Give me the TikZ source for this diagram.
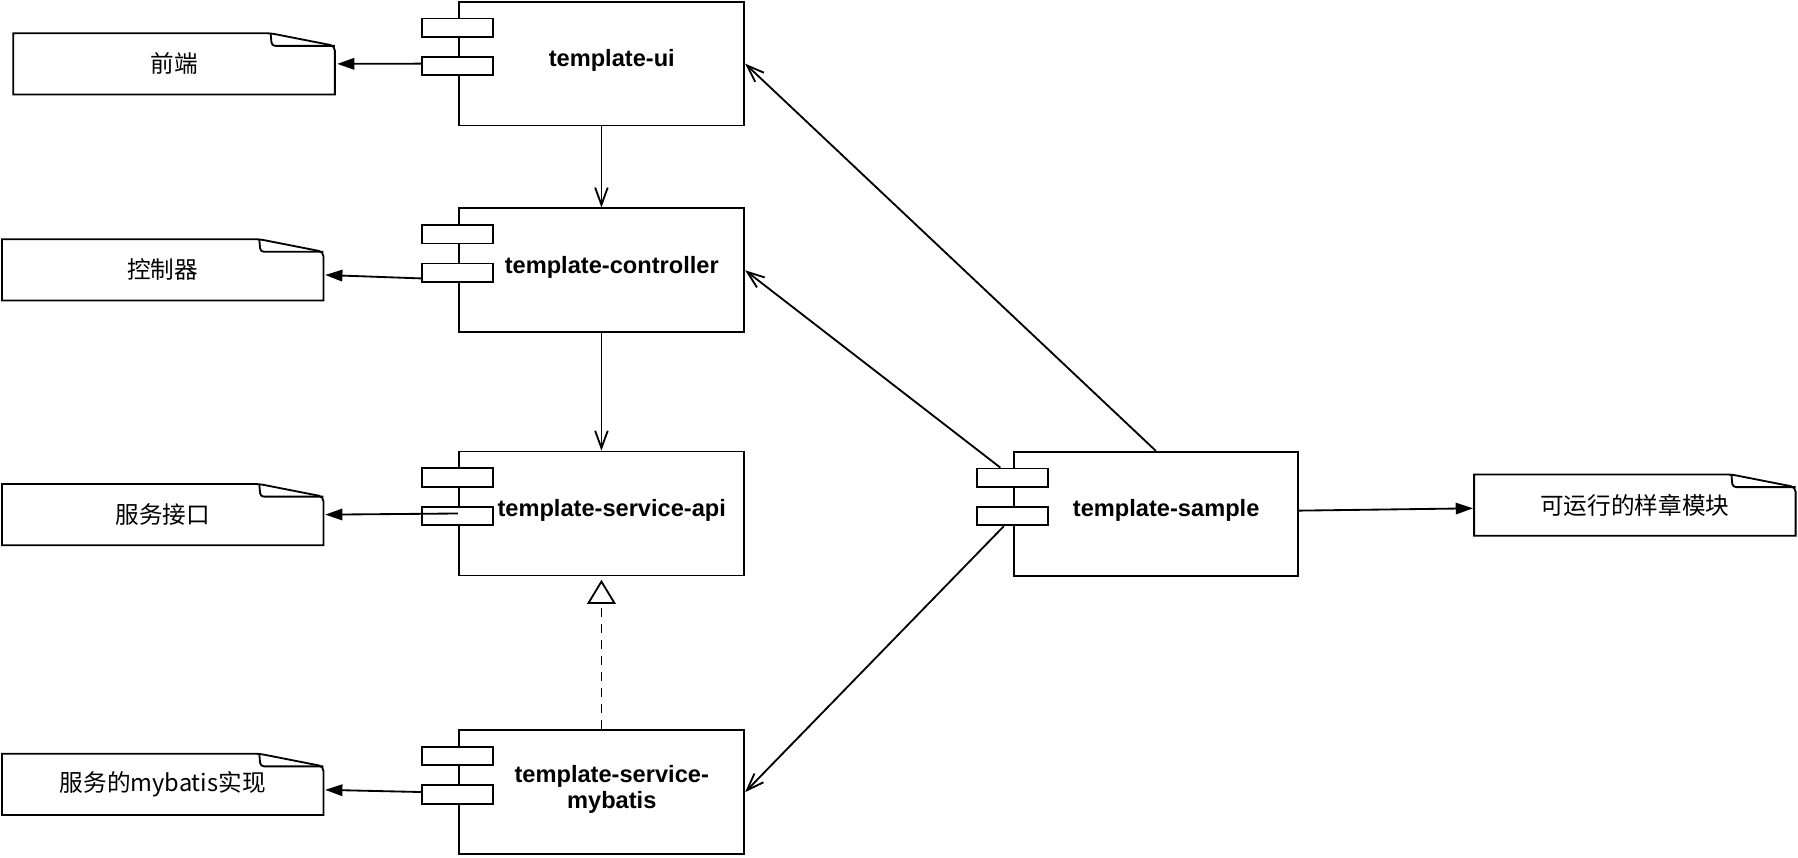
\documentclass[tikz,border=0pt]{standalone}
\usepackage{fontspec}
\setmainfont{Liberation Sans}
\newfontfamily\cjk{Noto Sans CJK SC}
\usetikzlibrary{arrows.meta}
\tikzset{
  lw/.style={line width=1.6pt},
  compbox/.style={draw, lw, fill=white, minimum width=249pt, minimum height=108pt, inner sep=0pt},
  portbox/.style={draw, lw, fill=white, minimum width=62pt, minimum height=16pt, inner sep=0pt},
  lbl/.style={font=\fontsize{20.6}{23.2}\selectfont\bfseries, align=center, inner sep=0pt},
  notebox/.style={minimum width=280pt, minimum height=53pt, inner sep=0pt, font=\cjk\fontsize{20.6}{24}\selectfont},
  opn/.style={lw, -{Straight Barb[length=15pt,width=11pt]}},
  blk/.style={lw, -{Triangle[length=15pt,width=10pt]}},
  impl/.style={lw, dash pattern=on 8pt off 6pt, -{Triangle[open,length=21pt,width=25pt,fill=white]}},
}
\newcommand\mkcomp[5]{%
  \node[compbox, minimum width=#4pt] (#1) at (#2,#3) {};
  \node[portbox] (#1-p1) at ([yshift=31.4pt]#1.west) {};
  \node[portbox] (#1-p2) at ([yshift=-2.1pt]#1.west) {};
  \node[lbl] (#1-l) at ([xshift=9pt,yshift=2.5pt]#1.center) {#5};
}
\newcommand\mknote[4]{%
  \node[notebox] (#1) at (#2,#3) {#4};
  \draw[lw] (#1.south west) -- (#1.north west)
    [rounded corners=4pt] -- ([xshift=-56pt]#1.north east) -- ([yshift=-11pt]#1.north east)
    [sharp corners] -- (#1.south east) -- cycle;
  \draw[lw, rounded corners=3pt] ([xshift=-56pt]#1.north east) -- ([xshift=-55pt,yshift=-11pt]#1.north east) -- ([yshift=-11pt]#1.north east);
}
\begin{document}
\begin{tikzpicture}[x=1pt,y=-1pt]
\useasboundingbox[fill=white] (0,0) rectangle (1568,748);
% components
\mkcomp{ui}{524.5}{55.5}{249}{template-ui}
\mkcomp{ctl}{524.5}{235.7}{249}{template-controller}
\mkcomp{api}{524.5}{447.8}{249}{template-service-api}
\mkcomp{myb}{524.5}{690.8}{249}{template-service-\\mybatis}
\mkcomp{smp}{1008}{448}{248}{template-sample}
% notes
\mknote{n1}{151.8}{55.7}{前端}
\mknote{n2}{141.9}{235.3}{控制器}
\mknote{n3}{141.9}{448.8}{服务接口}
\mknote{n4}{141.9}{684}{服务的mybatis实现}
\mknote{n5}{1425.7}{440.5}{可运行的样章模块}
% connectors
\draw[opn] (ui.south) -- (ctl.north);
\draw[opn] (ctl.south) -- (api.north);
\draw[impl] (myb.north) -- ([yshift=-3pt]api.south);
\draw[opn] (smp.north) -- (ui.east);
\draw[opn] ([xshift=21pt]smp-p1.north west) -- (ctl.east);
\draw[opn] ([xshift=24pt]smp-p2.south west) -- (myb.east);
\draw[blk] ([yshift=2.7pt]smp.east) -- ([xshift=-1pt,yshift=-2.8pt]n5.west);
\draw[blk] (ui-p2.west |- ui.east) -- ([xshift=2pt]n1.east);
\draw[blk] ([yshift=-5pt]ctl-p2.west) -- ([xshift=1.5pt,yshift=-4.5pt]n2.east);
\draw[blk] (api.west) -- ([xshift=1.5pt]n3.east);
\draw[blk] ([yshift=2.2pt]myb-p2.west) -- ([xshift=1.5pt,yshift=-4.8pt]n4.east);
\end{tikzpicture}
\end{document}
